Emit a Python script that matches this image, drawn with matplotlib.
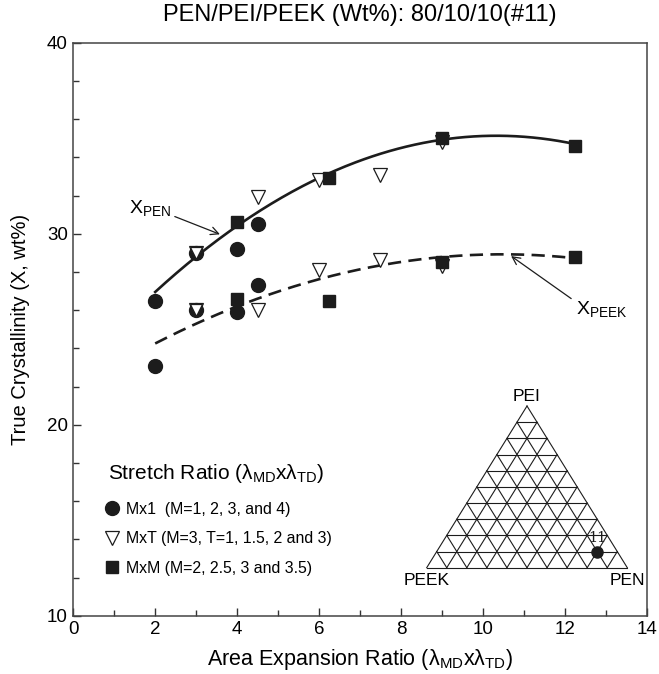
import numpy as np
import matplotlib
matplotlib.use("Agg")
import matplotlib.pyplot as plt
from matplotlib.lines import Line2D

plt.rcParams['font.family'] = ['Liberation Sans', 'DejaVu Sans']
plt.rcParams['mathtext.fontset'] = 'custom'
plt.rcParams['mathtext.rm'] = 'Liberation Sans'
plt.rcParams['mathtext.it'] = 'Liberation Sans'
plt.rcParams['mathtext.default'] = 'regular'

# ---------------------------------------------------------
# DATA
# ---------------------------------------------------------
# Mx1 (circles)
circ_x = [2, 2, 3, 3, 4, 4, 4.5, 4.5]
circ_y = [26.5, 23.1, 29.0, 26.0, 29.2, 25.9, 30.5, 27.3]

# MxT (open triangles)
tri_x = [3, 3, 4.5, 4.5, 6, 6, 7.5, 7.5, 9, 9]
tri_y = [29.0, 26.0, 31.9, 26.0, 32.8, 28.1, 33.1, 28.6, 34.8, 28.3]

# MxM (squares)
sq_x = [4, 4, 6.25, 6.25, 9, 9, 12.25, 12.25]
sq_y = [30.6, 26.6, 32.9, 26.5, 35.0, 28.5, 34.6, 28.8]

# trend curves, points
pen_curve_x = [2, 3.58, 6.25, 9, 10.5, 12.25]
pen_curve_y = [26.85, 29.97, 33.0, 35.0, 35.1, 34.7]
peek_curve_x = [2, 4, 6, 7.5, 9, 10.5, 12.25]
peek_curve_y = [24.26, 26.14, 27.7, 28.37, 28.72, 28.89, 28.75]

# blend composition (PEN, PEI, PEEK)
blend = (0.8, 0.1, 0.1)
blend_id = "11"

ink = "#1c1c1c"

fig = plt.figure(figsize=(6.59, 6.74), dpi=100)
ax = fig.add_axes([0.1112, 0.0865, 0.8701, 0.8501])

# fitted curves
xs = np.linspace(2, 12.25, 200)
p_pen = np.polyfit(pen_curve_x, pen_curve_y, 2)
p_peek = np.polyfit(peek_curve_x, peek_curve_y, 2)
ax.plot(xs, np.polyval(p_pen, xs), color=ink, lw=1.9, zorder=2)
ax.plot(xs, np.polyval(p_peek, xs), color=ink, lw=1.9, dashes=(5, 2.8), zorder=2)

# markers
ax.plot(tri_x, tri_y, ls="none", marker="v", ms=10, mfc="white", mec=ink, mew=0.9, zorder=3)
ax.plot(circ_x, circ_y, ls="none", marker="o", ms=10, mfc=ink, mec=ink, zorder=4)
ax.plot(sq_x, sq_y, ls="none", marker="s", ms=9, mfc=ink, mec=ink, zorder=5)
# triangles at x=3 sit on top of the circles
ax.plot(tri_x[:2], tri_y[:2], ls="none", marker="v", ms=9, mfc="white", mec=ink, mew=0.9, zorder=6)

# arrows / labels
ax.annotate(r"X$_{PEN}$", xy=(3.58, 29.97), xytext=(1.35, 31.35),
            fontsize=14, ha="left", va="center",
            arrowprops=dict(arrowstyle="->", color=ink, lw=0.9, shrinkA=1, shrinkB=0,
                            relpos=(1.0, 0.15)))
ax.annotate(r"X$_{PEEK}$", xy=(10.69, 28.83), xytext=(12.28, 26.05),
            fontsize=14, ha="left", va="center",
            arrowprops=dict(arrowstyle="->", color=ink, lw=0.9, shrinkA=2, shrinkB=0,
                            relpos=(0.0, 0.85)))

ax.set_xlim(0, 14)
ax.set_ylim(10, 40)
ax.set_xticks(np.arange(0, 15, 2))
ax.set_xticks(np.arange(1, 14, 2), minor=True)
ax.set_yticks([10, 20, 30, 40])
ax.set_yticks(np.arange(12, 40, 2), minor=True)
ax.tick_params(which="both", direction="in", top=False, right=False, labelsize=13.5,
               color="#333333")
ax.tick_params(which="major", length=5.5, width=1.0, pad=4)
ax.tick_params(which="minor", length=4, width=1.0)
for s in ax.spines.values():
    s.set_color("#444444")
    s.set_linewidth(1.1)

ax.set_xlabel(r"Area Expansion Ratio ($\lambda_{MD}$x$\lambda_{TD}$)", fontsize=15.5, labelpad=6)
ax.set_ylabel("True Crystallinity (X, wt%)", fontsize=14.5, labelpad=12)
ax.set_title("PEN/PEI/PEEK (Wt%): 80/10/10(#11)", fontsize=17, pad=16)

# legend: title as its own text, entries below
ax.text(0.0606, 0.249, r"Stretch Ratio ($\lambda_{MD}$x$\lambda_{TD}$)", transform=ax.transAxes,
        fontsize=15, ha="left", va="center")
handles = [
    Line2D([], [], ls="none", marker="o", ms=10, mfc=ink, mec=ink),
    Line2D([], [], ls="none", marker="v", ms=10, mfc="white", mec=ink, mew=0.9),
    Line2D([], [], ls="none", marker="s", ms=9, mfc=ink, mec=ink),
]
labels = ["Mx1  (M=1, 2, 3, and 4)", "MxT (M=3, T=1, 1.5, 2 and 3)", "MxM (M=2, 2.5, 3 and 3.5)"]
leg = ax.legend(handles, labels, loc="upper left", bbox_to_anchor=(0.06, 0.1984),
                frameon=False, fontsize=11.4, handlelength=0.6, handletextpad=0.55,
                labelspacing=0.9, borderaxespad=0, borderpad=0)

# ---------------------------------------------------------
# TERNARY INSET
# ---------------------------------------------------------
tax = fig.add_axes([0.6475, 0.1577, 0.3044, 0.2399])
tax.set_xlim(0, 1)
tax.set_ylim(0, 1)
tax.axis("off")

n = 10
for i in range(n + 1):
    t = i / n
    # constant PEI (horizontal)
    tax.plot([0.5 * t, 1 - 0.5 * t], [t, t], color=ink, lw=0.8, clip_on=False)
    # constant PEN: from base (t,0) up-left to left edge
    tax.plot([t, 0.5 * t], [0, t], color=ink, lw=0.8, clip_on=False)
    # constant PEEK: from base (t,0) up-right to right edge
    tax.plot([t, t + 0.5 * (1 - t)], [0, 1 - t], color=ink, lw=0.8, clip_on=False)

pen, pei, peek = blend
bx = pen + 0.5 * pei
by = pei
tax.plot([bx], [by], ls="none", marker="o", ms=8, mfc=ink, mec=ink, clip_on=False, zorder=5)
tax.text(bx, by + 0.04, blend_id, fontsize=10.5, ha="center", va="bottom",
         family=["DejaVu Serif"], color=ink)
tax.text(0.0, -0.08, "PEEK", fontsize=12.5, ha="center", va="center")
tax.text(1.0, -0.08, "PEN", fontsize=12.5, ha="center", va="center")
tax.text(0.5, 1.06, "PEI", fontsize=12.5, ha="center", va="center")

fig.savefig("out.png", dpi=100)
